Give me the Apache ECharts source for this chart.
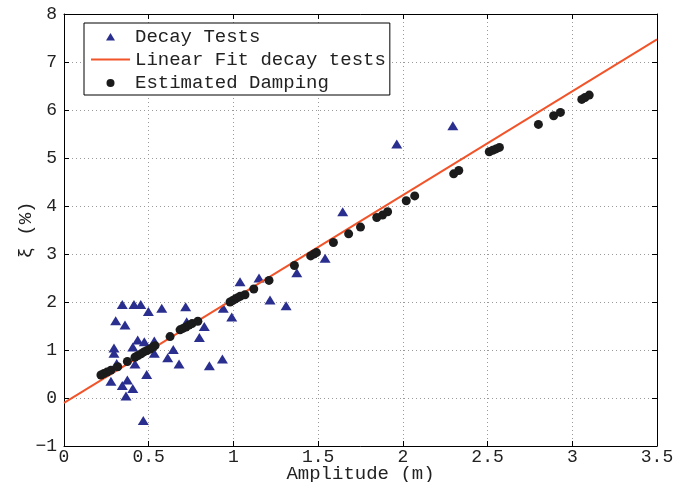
<!DOCTYPE html>
<html>
<head>
<meta charset="utf-8">
<script src="https://cdn.jsdelivr.net/npm/echarts@6/dist/echarts.min.js"></script>
<style>
  html, body { margin: 0; padding: 0; background: #fff; }
  #chart { width: 688px; height: 482px; }
</style>
</head>
<body>
<div id="chart"></div>
<script>
// Free decay tests: amplitude (m) vs. damping ratio (%)
var decayAmp = [0.344, 0.413, 0.453, 0.498, 0.577, 0.718, 0.305, 0.360, 0.435, 0.474,
                0.533, 0.724, 0.406, 0.295, 0.295, 0.645, 0.533, 0.612, 0.311, 0.419,
                0.679, 0.488, 0.277, 0.374, 0.344, 0.406, 0.366, 0.468, 0.828, 0.799,
                0.940, 0.990, 0.858, 0.935, 1.039, 1.151, 1.216, 1.311, 1.374, 1.541,
                1.645, 1.964, 2.295];
var decayXi  = [1.95, 1.95, 1.95, 1.80, 1.87, 1.90, 1.61, 1.52, 1.21, 1.17,
                1.19, 1.59, 1.06, 1.04, 0.93, 1.01, 0.93, 0.84, 0.72, 0.71,
                0.71, 0.49, 0.35, 0.375, 0.26, 0.20, 0.04, -0.47, 1.49, 1.26,
                1.87, 1.69, 0.67, 0.81, 2.42, 2.50, 2.04, 1.92, 2.61, 2.91,
                3.88, 5.29, 5.67];

// Linear fit through the decay tests (end points)
var fitAmp = [0, 3.5];
var fitXi  = [-0.10, 7.47];

// Estimated damping along the record
var estAmp = [0.218, 0.236, 0.254, 0.277, 0.317, 0.374, 0.419, 0.437, 0.455, 0.472,
              0.490, 0.508, 0.525, 0.537, 0.626, 0.685, 0.702, 0.720, 0.738, 0.756,
              0.790, 0.980, 0.995, 1.010, 1.025, 1.040, 1.068, 1.120, 1.210, 1.360,
              1.456, 1.475, 1.490, 1.590, 1.680, 1.750, 1.846, 1.880, 1.910, 2.020,
              2.070, 2.300, 2.330, 2.510, 2.530, 2.550, 2.570, 2.800, 2.890, 2.930,
              3.056, 3.075, 3.100];
var estXi  = [0.48, 0.51, 0.54, 0.58, 0.65, 0.76, 0.85, 0.885, 0.92, 0.96,
              0.99, 1.02, 1.06, 1.09, 1.28, 1.42, 1.45, 1.48, 1.52, 1.55,
              1.60, 2.00, 2.03, 2.06, 2.09, 2.12, 2.15, 2.27, 2.45, 2.76,
              2.96, 3.00, 3.03, 3.24, 3.42, 3.56, 3.76, 3.81, 3.88, 4.11,
              4.21, 4.67, 4.74, 5.13, 5.16, 5.19, 5.22, 5.70, 5.88, 5.95,
              6.22, 6.26, 6.31];

// Axis ranges and ticks
var xTicks = { min: 0, max: 3.5, interval: 0.5 };
var yTicks = { min: -1, max: 8, interval: 1 };

function pairs(xs, ys) {
  return xs.map(function (x, i) { return [x, ys[i]]; });
}

// Typographic minus for negative tick values
function tickText(v) {
  return String(v).replace('-', '\u2212');
}

var FONT = '"Liberation Mono", "DejaVu Sans Mono", monospace';
var BLUE = '#2a2f8f';
var ORANGE = '#f2542a';
var BLACK = '#1b1b1b';

// Legend glyphs on a 39x10 canvas (the two leading moves fix the box size)
var ICON_TRI = 'path://M0,0M39,10M19.5,1.5L24,9L15,9Z';
var ICON_LINE = 'path://M0,0M39,10M0,4H39V6H0Z';
var ICON_DOT = 'path://M0,0M39,10M15.5,5.5A4,4 0 1,1 23.5,5.5A4,4 0 1,1 15.5,5.5Z';

var gridLine = { show: true, lineStyle: { color: '#9a9a9a', width: 1, type: [1, 3] } };
var axisLine = { show: true, onZero: false, lineStyle: { color: '#000', width: 1 } };
var tickIn = { show: true, inside: true, length: 5, lineStyle: { color: '#000' } };

var chart = echarts.init(document.getElementById('chart'), null, { renderer: 'canvas' });
chart.setOption({
  animation: false,
  backgroundColor: '#fff',
  grid: { left: 64, right: 31, top: 14, bottom: 36, containLabel: false, outerBoundsMode: 'none' },
  legend: {
    orient: 'vertical',
    left: 84, top: 23,
    padding: [4, 4, 3, 7],
    itemWidth: 39, itemHeight: 10, itemGap: 4,
    symbolKeepAspect: true,
    borderColor: '#000', borderWidth: 1,
    backgroundColor: '#fff',
    textStyle: { fontFamily: FONT, fontSize: 19, color: '#222' },
    data: [
      { name: 'Decay Tests', icon: ICON_TRI, itemStyle: { color: BLUE, borderWidth: 0 } },
      { name: 'Linear Fit decay tests', icon: ICON_LINE, itemStyle: { color: ORANGE, borderWidth: 0 } },
      { name: 'Estimated Damping', icon: ICON_DOT, itemStyle: { color: BLACK, borderWidth: 0 } }
    ]
  },
  xAxis: [{
    type: 'value', position: 'bottom',
    min: xTicks.min, max: xTicks.max, interval: xTicks.interval,
    name: 'Amplitude (m)', nameLocation: 'middle', nameGap: 18, nameMoveOverlap: false,
    nameTextStyle: { fontFamily: FONT, fontSize: 19, color: '#222' },
    axisLine: axisLine, axisTick: tickIn, splitLine: gridLine,
    axisLabel: { fontFamily: FONT, fontSize: 18, color: '#222', margin: 2, formatter: tickText }
  }, {
    type: 'value', position: 'top',
    min: xTicks.min, max: xTicks.max, interval: xTicks.interval,
    axisLine: axisLine, axisTick: tickIn, splitLine: { show: false },
    axisLabel: { show: false }
  }],
  yAxis: [{
    type: 'value', position: 'left',
    min: yTicks.min, max: yTicks.max, interval: yTicks.interval,
    name: 'ξ (%)', nameLocation: 'middle', nameGap: 29, nameMoveOverlap: false,
    nameTextStyle: { fontFamily: FONT, fontSize: 19, color: '#222' },
    axisLine: axisLine, axisTick: tickIn, splitLine: gridLine,
    axisLabel: { fontFamily: FONT, fontSize: 18, color: '#222', margin: 7, formatter: tickText }
  }, {
    type: 'value', position: 'right',
    min: yTicks.min, max: yTicks.max, interval: yTicks.interval,
    axisLine: axisLine, axisTick: tickIn, splitLine: { show: false },
    axisLabel: { show: false }
  }],
  series: [{
    name: 'Decay Tests',
    type: 'scatter',
    symbol: 'triangle',
    symbolSize: [11, 9],
    itemStyle: { color: BLUE, opacity: 1 },
    data: pairs(decayAmp, decayXi),
    z: 2
  }, {
    name: 'Linear Fit decay tests',
    type: 'line',
    symbol: 'none',
    lineStyle: { color: ORANGE, width: 2 },
    itemStyle: { color: ORANGE },
    data: pairs(fitAmp, fitXi),
    z: 3
  }, {
    name: 'Estimated Damping',
    type: 'scatter',
    symbol: 'circle',
    symbolSize: 9,
    itemStyle: { color: BLACK, opacity: 1 },
    data: pairs(estAmp, estXi),
    z: 4
  }]
});
</script>
</body>
</html>
